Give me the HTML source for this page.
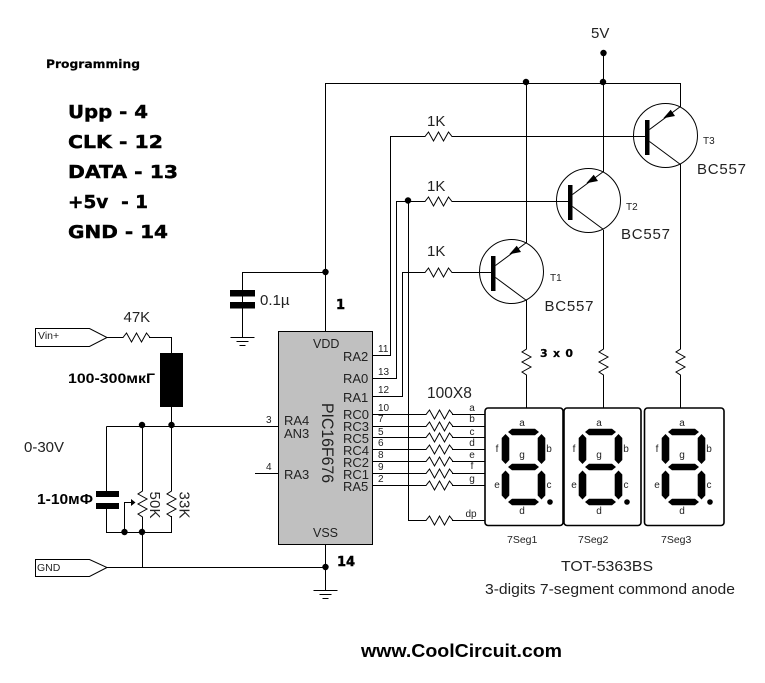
<!DOCTYPE html>
<html><head><meta charset="utf-8"><style>
html,body{margin:0;padding:0;background:#fff;width:765px;height:683px;overflow:hidden}
svg{display:block}
text{font-family:"Liberation Sans","DejaVu Sans",sans-serif;fill:#222}
.b{font-family:"DejaVu Sans","Liberation Sans",sans-serif;font-weight:bold;fill:#000;stroke:#000;stroke-width:.45}
.lb{font-weight:bold;fill:#000}
.w{fill:none;stroke:#000;stroke-width:1}
.p{font-size:10px}
.i{font-size:13px}
.m{font-size:15px}
.s{font-size:10px;text-anchor:middle}
</style></head><body>
<svg width="765" height="683" viewBox="0 0 765 683" xmlns="http://www.w3.org/2000/svg">
<defs>
<path id="rh" class="w" d="M0 0h2l3.5-4.5 5 9 5-9 5 9 5-9 3.5 4.5h1"/>
<path id="rv" class="w" d="M0 0v2l-4.5 3 9 5-9 5 9 5-9 5 4.5 3v1"/>
<g id="gnd"><path class="w" d="M-12 .5h24M-6 4.5h12M-3 8.500h6"/></g>
<g id="dot"><circle r="3.200" fill="#000"/></g>
<g id="seg" fill="#000">
<path id="sa" d="M508 432l4-3.200h23l4 3.200-4 3.200h-23z"/>
<path d="M505.500 434l3.800 4v22l-3.800 4-3.800-4v-22z"/>
<path d="M541.500 434l3.800 4v22l-3.800 4-3.800-4v-22z"/>
<path d="M508 467l4-3.200h23l4 3.200-4 3.200h-23z"/>
<path d="M505.500 470.500l3.800 4v21l-3.800 4-3.800-4v-21z"/>
<path d="M541.500 470.500l3.800 4v21l-3.800 4-3.800-4v-21z"/>
<path d="M508 502l4-3.200h23l4 3.200-4 3.200h-23z"/>
<circle cx="550" cy="502" r="2.800"/>
</g>
<g id="lbl">
<text class="s" x="522" y="426">a</text><text class="s" x="497" y="452">f</text><text class="s" x="549" y="452">b</text><text class="s" x="522" y="458">g</text><text class="s" x="497" y="488">e</text><text class="s" x="549" y="488">c</text><text class="s" x="522" y="514">d</text>
</g>
<g id="tr">
<circle class="w" cx="0" cy="0" r="32"/>
<rect x="-20.500" y="-15.500" width="4.500" height="35" fill="#000"/>
<path class="w" d="M-16-6 15-29M-16 6 15 29"/>
<path d="M-2.200-17.200 5.200-25.800 9.500-19.500z" fill="#000"/>
</g>
</defs>

<!-- IC -->
<rect x="278.500" y="331.500" width="94" height="213" fill="#c0c0c0" stroke="#000"/>

<!-- power wires -->
<path class="w" d="M325.500 331V83.500H680.500V107M526.500 83V243M603.500 53V172M526.500 300V347M603.500 230V347M680.500 164V347M526.500 376V408M603.500 376V408M680.500 376V408"/>
<use href="#rv" x="526.500" y="347"/><use href="#rv" x="603.500" y="347"/><use href="#rv" x="680.500" y="347"/>
<use href="#dot" x="603.500" y="53"/><use href="#dot" x="526" y="82"/><use href="#dot" x="603" y="82"/>

<!-- cap 0.1u -->
<path class="w" d="M325 272.500H242.500V337"/>
<rect x="230" y="290" width="25" height="6.500" fill="#000"/><rect x="230" y="302" width="25" height="6.500" fill="#000"/>
<use href="#gnd" x="242.500" y="337"/>
<use href="#dot" x="325.500" y="272"/>

<!-- Base drives -->
<path class="w" d="M372 355.500H390.500V136.500H423M452 136.500H646M372 378.500H396.500V201.500H423M452 201.500H570M372 396.500H402.500V272.500H423M452 272.500H493M408.500 201.500V520.500H424M452 520.500H485"/>
<use href="#rh" x="423" y="136.500"/><use href="#rh" x="423" y="201.500"/><use href="#rh" x="423" y="272.500"/>
<use href="#dot" x="408" y="200.500"/>

<!-- segment bus -->
<path class="w" d="M372 414.500H424M452 414.500H485M372 426.500H424M452 426.500H485M372 437.500H424M452 437.500H485M372 449.500H424M452 449.500H485M372 461.500H424M452 461.500H485M372 473.500H424M452 473.500H485M372 485.500H424M452 485.500H485"/>
<use href="#rh" x="424" y="414.500"/><use href="#rh" x="424" y="426.500"/><use href="#rh" x="424" y="437.500"/><use href="#rh" x="424" y="449.500"/><use href="#rh" x="424" y="461.500"/><use href="#rh" x="424" y="473.500"/><use href="#rh" x="424" y="485.500"/><use href="#rh" x="424" y="520.500"/>

<!-- transistors -->
<use href="#tr" x="511.500" y="271.500"/><use href="#tr" x="588.500" y="200.500"/><use href="#tr" x="665.500" y="135.500"/>

<!-- displays -->
<rect x="485" y="408" width="78" height="117.500" rx="3" fill="#fff" stroke="#000" stroke-width="1.600"/>
<rect x="564" y="408" width="77" height="117.500" rx="3" fill="#fff" stroke="#000" stroke-width="1.600"/>
<rect x="644.500" y="408" width="79.500" height="117.500" rx="3" fill="#fff" stroke="#000" stroke-width="1.600"/>
<use href="#seg"/><use href="#seg" x="77"/><use href="#seg" x="160"/>
<use href="#lbl"/><use href="#lbl" x="77"/><use href="#lbl" x="160"/>

<!-- input -->
<path class="w" d="M35.500 328.500H89.500L107 337.500 89.500 346.500H35.500zM107 337.500H121M149 337.500H171.500V353M171.500 407V426M106.500 426.500H278M106.500 426.500V491M106.500 509V532.500H171.500V516M142.500 426.500V489M171.500 426.500V489M142.500 518V567M124.500 532V502.500H131M35.500 559.500H89.500L107 567.500 89.500 576.500H35.500zM107 567.500H325.500M325.500 544V590M255 473.500H278"/>
<use href="#rh" x="121" y="337.500"/>
<rect x="160" y="353" width="23" height="54" fill="#000"/>
<rect x="96" y="491" width="23" height="6" fill="#000"/><rect x="96" y="503" width="23" height="6" fill="#000"/>
<use href="#rv" x="142.500" y="489"/><use href="#rv" x="171.500" y="489"/>
<path d="M135.500 502.500l-4.500-3.500v7z" fill="#000"/>
<use href="#dot" x="142" y="425"/><use href="#dot" x="171.500" y="425"/><use href="#dot" x="124.500" y="532"/><use href="#dot" x="142" y="532"/><use href="#dot" x="325.500" y="567"/>
<use href="#gnd" x="325.500" y="590"/>

<!-- Text -->
<text class="b" x="46" y="68" font-size="11.500" textLength="94" lengthAdjust="spacingAndGlyphs" style="stroke-width:.2">Programming</text>
<text class="b" x="68" y="118" font-size="18" textLength="80" lengthAdjust="spacingAndGlyphs">Upp - 4</text>
<text class="b" x="68" y="148" font-size="18" textLength="95" lengthAdjust="spacingAndGlyphs">CLK - 12</text>
<text class="b" x="68" y="178" font-size="18" textLength="110" lengthAdjust="spacingAndGlyphs">DATA - 13</text>
<text class="b" x="68" y="208" font-size="18" textLength="80" lengthAdjust="spacingAndGlyphs" xml:space="preserve">+5v  - 1</text>
<text class="b" x="68" y="238" font-size="18" textLength="100" lengthAdjust="spacingAndGlyphs">GND - 14</text>

<text class="m" x="591" y="38">5V</text>
<text class="m" x="427" y="126">1K</text><text class="m" x="427" y="191">1K</text><text class="m" x="427" y="256">1K</text>
<text class="p" x="703" y="144">T3</text><text class="p" x="626" y="210">T2</text><text class="p" x="550" y="281">T1</text>
<text class="m" x="697" y="174" textLength="49">BC557</text><text class="m" x="621" y="239" textLength="49">BC557</text><text class="m" x="544.500" y="311" textLength="49">BC557</text>
<text class="m" x="260" y="305">0.1µ</text>
<text class="b" x="336" y="309" font-size="13">1</text>
<text class="b" x="337" y="566" font-size="13">14</text>
<text class="b" x="540" y="357" font-size="11" textLength="33" style="stroke-width:.2">3 x 0</text>

<text x="313" y="348" font-size="12.500">VDD</text><text x="313" y="537" font-size="12.500">VSS</text>
<text class="i" x="343" y="361">RA2</text><text class="i" x="343" y="383">RA0</text><text class="i" x="343" y="402">RA1</text>
<text class="i" x="343" y="419">RC0</text><text class="i" x="343" y="431">RC3</text><text class="i" x="343" y="443">RC5</text><text class="i" x="343" y="455">RC4</text><text class="i" x="343" y="467">RC2</text><text class="i" x="343" y="479">RC1</text><text class="i" x="343" y="491">RA5</text>
<text class="i" x="284" y="425">RA4</text><text class="i" x="284" y="438">AN3</text><text class="i" x="284" y="479">RA3</text>
<text transform="translate(322 403) rotate(90)" font-size="17" textLength="80" lengthAdjust="spacingAndGlyphs">PIC16F676</text>

<text class="p" x="378" y="352">11</text><text class="p" x="378" y="375">13</text><text class="p" x="378" y="393">12</text><text class="p" x="378" y="411">10</text><text class="p" x="378" y="422">7</text><text class="p" x="378" y="435">5</text><text class="p" x="378" y="446">6</text><text class="p" x="378" y="458">8</text><text class="p" x="378" y="470">9</text><text class="p" x="378" y="482">2</text>
<text class="p" x="266" y="423">3</text><text class="p" x="266" y="470">4</text>
<text class="s" x="472" y="411">a</text><text class="s" x="472" y="422">b</text><text class="s" x="472" y="435">c</text><text class="s" x="472" y="446">d</text><text class="s" x="472" y="458">e</text><text class="s" x="472" y="469">f</text><text class="s" x="472" y="482">g</text><text class="s" x="471" y="517">dp</text>
<text x="427" y="398" font-size="15.500">100X8</text>

<text class="m" x="123.500" y="322">47K</text>
<text class="lb" x="68" y="383" font-size="14" textLength="87" lengthAdjust="spacingAndGlyphs">100-300мкГ</text>
<text class="m" x="24" y="452">0-30V</text>
<text class="lb" x="37" y="504" font-size="15" textLength="56" lengthAdjust="spacingAndGlyphs">1-10мФ</text>
<text transform="translate(150 491.500) rotate(90)" class="m" textLength="27">50K</text>
<text transform="translate(179.500 491.500) rotate(90)" class="m" textLength="27">33K</text>
<text x="38" y="339" font-size="10.500">Vin+</text>
<text x="37" y="571" font-size="10.500">GND</text>

<text x="507" y="543" font-size="10.500">7Seg1</text><text x="578" y="543" font-size="10.500">7Seg2</text><text x="661" y="543" font-size="10.500">7Seg3</text>
<text x="561" y="571" font-size="14.500" textLength="92" lengthAdjust="spacingAndGlyphs">TOT-5363BS</text>
<text x="485" y="594" font-size="14.500" textLength="250" lengthAdjust="spacingAndGlyphs">3-digits 7-segment commond anode</text>
<text class="lb" x="361" y="657" font-size="18" textLength="201" lengthAdjust="spacingAndGlyphs">www.CoolCircuit.com</text>
</svg>
</body></html>
